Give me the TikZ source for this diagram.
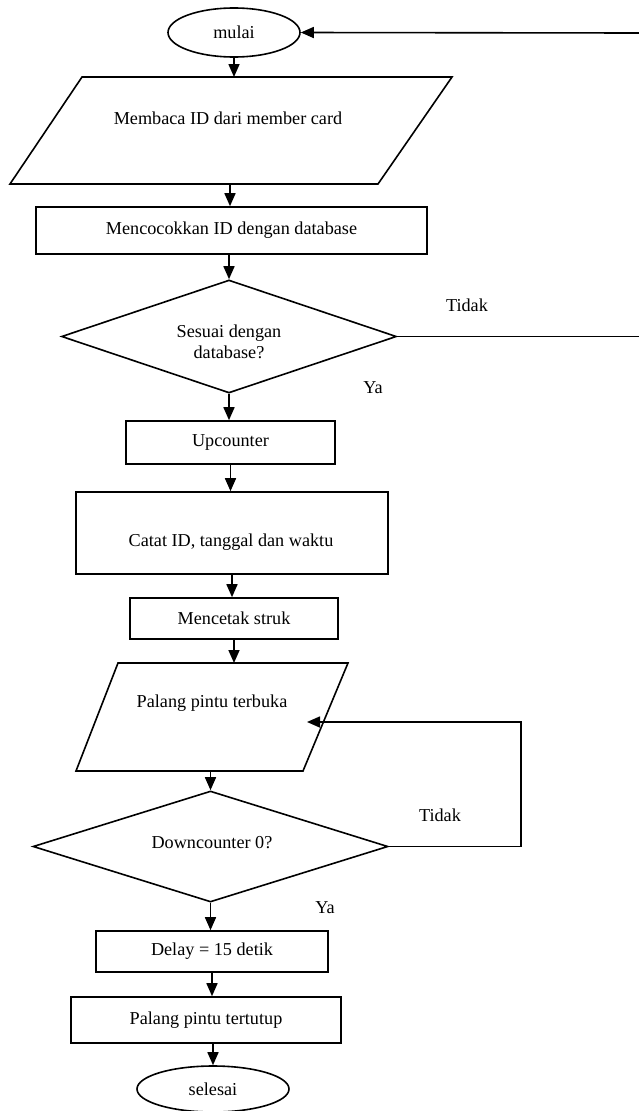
\documentclass[tikz,border=0pt]{standalone}
\usepackage{fontspec}
\setmainfont{Liberation Serif}
\usetikzlibrary{arrows.meta,shapes.geometric}
\begin{document}
\begin{tikzpicture}[x=1pt,y=-1pt, line width=1.6pt,
  font=\fontsize{18.2}{21.5}\selectfont,
  box/.style={draw, rectangle, inner sep=0pt},
  term/.style={draw, ellipse, inner sep=0pt},
  dec/.style={draw, diamond, inner sep=0pt, aspect=3},
  txt/.style={inner sep=0pt, align=center},
  arr/.style={-{Triangle[length=13pt,width=11pt]}}]
\useasboundingbox (0,0) rectangle (639,1111);

% shapes
\node[term, minimum width=132pt, minimum height=49pt] (start) at (234,32.5) {mulai};
\coordinate (P1tl) at (82,77);  \coordinate (P1tr) at (452,77);
\coordinate (P1br) at (378,184); \coordinate (P1bl) at (10,184);
\draw (P1tl) -- (P1tr) -- (P1br) -- (P1bl) -- cycle;
\coordinate (P1t) at (233,77); \coordinate (P1b) at (230,184);
\node[txt] (p1) at (228,118) {Membaca ID dari member card};

\node[box, minimum width=391pt, minimum height=47pt] (r1) at (231.5,230.5) {Mencocokkan ID dengan database};
\node[dec, minimum width=335pt, minimum height=113pt] (d1) at (229,336.5) {};
\node[txt] (d1t) at (229,342) {Sesuai dengan\\database?};

\node[box, minimum width=209pt, minimum height=43pt] (r2) at (230.5,442.5) {Upcounter};
\node[box, minimum width=312pt, minimum height=82pt] (r3) at (232,533) {};
\node[txt] (r3t) at (231,542) {Catat ID, tanggal dan waktu};
\node[box, minimum width=208pt, minimum height=41pt] (r4) at (234,618.5) {Mencetak struk};

\coordinate (P2tl) at (118,663); \coordinate (P2tr) at (348,663);
\coordinate (P2br) at (303,771); \coordinate (P2bl) at (76,771);
\draw (P2tl) -- (P2tr) -- (P2br) -- (P2bl) -- cycle;
\coordinate (P2t) at (236,663); \coordinate (P2b) at (215,771);
\coordinate (P2in) at (307,722);
\node[txt] (p2) at (212,703) {Palang pintu terbuka};

\node[dec, minimum width=355pt, minimum height=111pt] (d2) at (210.5,846.5) {};
\node[txt] (d2t) at (212,843) {Downcounter 0?};

\node[box, minimum width=232pt, minimum height=41pt] (r5) at (212,951.5) {Delay = 15 detik};
\node[box, minimum width=270pt, minimum height=46pt] (r6) at (206,1020) {Palang pintu tertutup};
\node[term, minimum width=152pt, minimum height=46pt] (e2) at (213,1089) {selesai};

% labels
\node[txt] (l1) at (467,305) {Tidak};
\node[txt] (l2) at (373,388) {Ya};
\node[txt] (l3) at (440,815) {Tidak};
\node[txt] (l4) at (325,908) {Ya};

% connectors
\coordinate (entry) at (639,33);
\coordinate (exit1) at (639,336.5);
\coordinate (loopx) at (521,722);
\draw[arr] (entry) -- (start.east);
\draw[arr] (start.south) -- (start.south |- P1t);
\draw[arr] (P1b) -- (P1b |- r1.north);
\draw[arr] (d1.north |- r1.south) -- (d1.north);
\draw (d1.east) -- (exit1);
\draw[arr] (d1.south) -- (d1.south |- r2.north);
\draw[arr] (r2.south) -- (r2.south |- r3.north);
\draw[arr] (r3.south) -- (r3.south |- r4.north);
\draw[arr] (r4.south) -- (r4.south |- P2t);
\draw[arr] (d2.north |- P2b) -- (d2.north);
\draw[arr] (d2.east) -| (loopx) -- (P2in);
\draw[arr] (d2.south) -- (d2.south |- r5.north);
\draw[arr] (r5.south) -- (r5.south |- r6.north);
\draw[arr] (e2.north |- r6.south) -- (e2.north);
\end{tikzpicture}
\end{document}
